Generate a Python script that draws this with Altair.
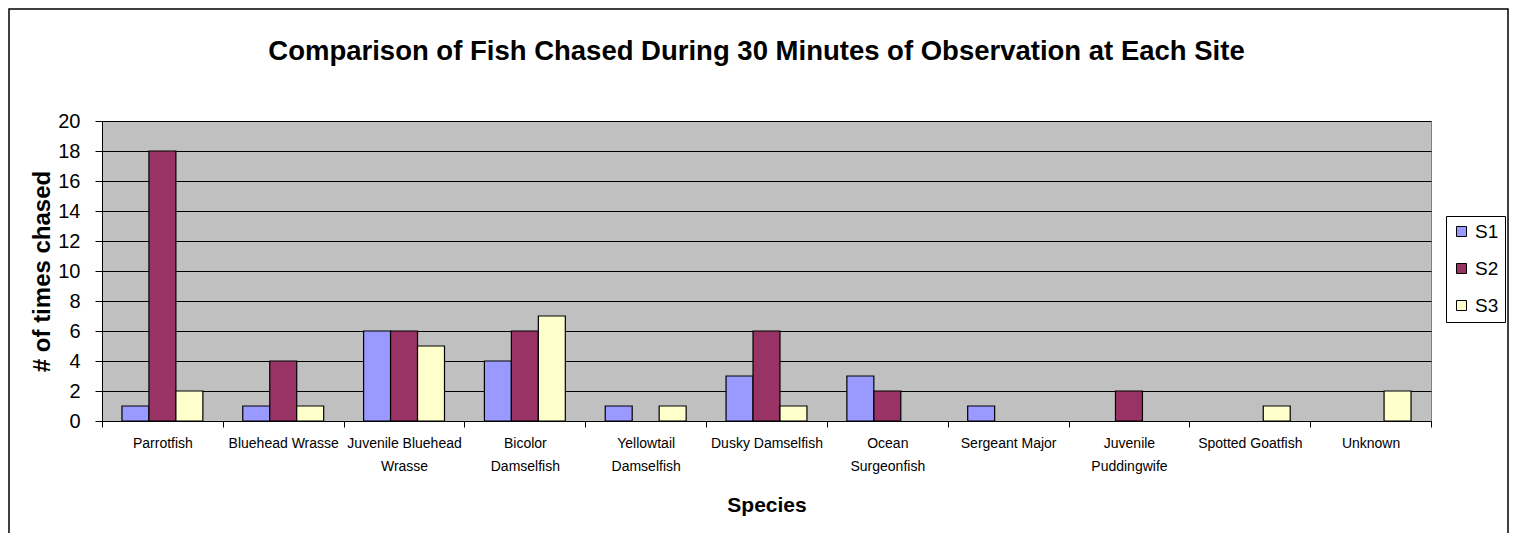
import json
import altair as alt
import pandas as pd

species = [
    "Parrotfish", "Bluehead Wrasse", "Juvenile Bluehead Wrasse", "Bicolor Damselfish",
    "Yellowtail Damselfish", "Dusky Damselfish", "Ocean Surgeonfish", "Sergeant Major",
    "Juvenile Puddingwife", "Spotted Goatfish", "Unknown",
]
tick_labels = [
    ["Parrotfish"], ["Bluehead Wrasse"], ["Juvenile Bluehead", "Wrasse"], ["Bicolor", "Damselfish"],
    ["Yellowtail", "Damselfish"], ["Dusky Damselfish"], ["Ocean", "Surgeonfish"], ["Sergeant Major"],
    ["Juvenile", "Puddingwife"], ["Spotted Goatfish"], ["Unknown"],
]
series = ["S1", "S2", "S3"]
s1 = [1, 1, 6, 4, 1, 3, 3, 1, 0, 0, 0]
s2 = [18, 4, 6, 6, 0, 6, 2, 0, 2, 0, 0]
s3 = [2, 1, 5, 7, 1, 1, 0, 0, 0, 1, 2]
colors = ["#9999FF", "#993366", "#FFFFCC"]
y_ticks = list(range(0, 21, 2))

rows = []
for name, vals in zip(series, [s1, s2, s3]):
    for sp, v in zip(species, vals):
        rows.append({"species": sp, "series": name, "value": v})
df = pd.DataFrame(rows)

label_map = json.dumps(dict(zip(species, tick_labels)))
label_expr = label_map + "[datum.label]"

FONT = "Liberation Sans"
W, H = 1329, 300

bars = alt.Chart(df).transform_filter("datum.value > 0").mark_bar(
    stroke="black", strokeWidth=1.2
).encode(
    x=alt.X(
        "species:N", sort=species, title="Species",
        scale=alt.Scale(paddingInner=0, paddingOuter=0),
        axis=alt.Axis(
            labelAngle=0, labelExpr=label_expr, labelFontSize=14, labelLineHeight=23,
            labelPadding=9, tickBand="extent", tickSize=6, tickColor="black",
            domainColor="black", titleFontSize=21, titleFontWeight="bold",
            titlePadding=21, labelColor="black", titleColor="black", grid=False,
            labelFont=FONT, titleFont=FONT,
        ),
    ),
    xOffset=alt.XOffset("series:N", sort=series,
                        scale=alt.Scale(paddingOuter=0.74, paddingInner=0)),
    y=alt.Y(
        "value:Q", title="# of times chased",
        scale=alt.Scale(domain=[0, 20], nice=False),
        axis=alt.Axis(
            values=y_ticks, labelFontSize=20, tickSize=7, tickColor="black",
            domainColor="black", gridColor="black", gridWidth=1, labelPadding=15,
            titleFontSize=24, titleFontWeight="bold", titlePadding=3,
            labelColor="black", titleColor="black", labelFont=FONT, titleFont=FONT,
        ),
    ),
    color=alt.Color(
        "series:N", sort=series, scale=alt.Scale(domain=series, range=colors),
        legend=alt.Legend(
            title=None, orient="none", legendX=1344, legendY=95,
            strokeColor="black", fillColor="white", padding=6,
            symbolType="square", symbolSize=100, symbolStrokeColor="black",
            symbolStrokeWidth=1, labelFontSize=19, labelFont=FONT, rowPadding=17,
            labelColor="black", symbolOpacity=1,
        ),
    ),
)

frame = alt.Chart(pd.DataFrame({"a": [0]})).mark_rect(
    fill=None, stroke="black", strokeWidth=1.5
).encode(
    x=alt.value(-93), x2=alt.value(1406), y=alt.value(-112), y2=alt.value(430)
)

chart = alt.layer(frame, bars).properties(
    width=W, height=H,
    autosize=alt.AutoSizeParams(type="none"),
    padding={"left": 94, "top": 113, "right": 79, "bottom": 112},
    title=alt.Title(
        "Comparison of Fish Chased During 30 Minutes of Observation at Each Site",
        font=FONT, fontSize=27.5, fontWeight="bold", color="black", anchor="middle",
        offset=-57, dx=-10,
    ),
).configure(
    background="white",
    view=alt.ViewConfig(fill="#C0C0C0", stroke="#808080"),
)

chart.save("out.html", embed_options={"renderer": "svg", "actions": False})
